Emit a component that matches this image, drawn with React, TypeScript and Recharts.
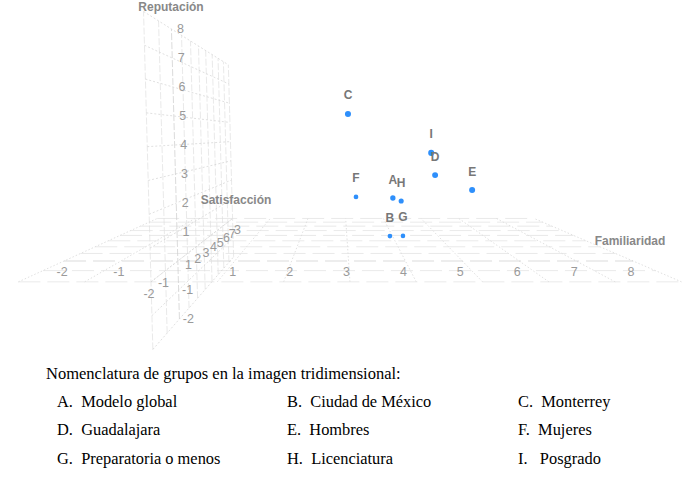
import { ScatterChart, Scatter, XAxis, YAxis, ReferenceLine, LabelList } from "recharts"

// Group positions (familiaridad, satisfaccion, reputacion)
const groupNames = ["A", "B", "C", "D", "E", "F", "G", "H", "I"]
const familiaridad = [4.05, 4.03, 3.09, 4.9, 5.66, 3.25, 4.36, 4.26, 4.81]
const satisfaccion = [4.2, 5.5, 3.0, 3.2, 3.1, 5.5, 5.8, 4.6, 3.0]
const reputacion = [1.59, -0.36, 5.21, 2.68, 2.07, 1.46, -0.42, 1.4, 3.61]

const famTicks = [-2, -1, 1, 2, 3, 4, 5, 6, 7, 8]
const satTicks = [-2, -1, 1, 2, 3, 4, 5, 6, 7, 8]
// the last satisfaccion tick reads as a 3 in the picture
const satTickText = ["-2", "-1", "1", "2", "3", "4", "5", "6", "7", "3"]
const repTicks = [-2, -1, 1, 2, 3, 4, 5, 6, 7, 8]
const famGrid = [-2, -1, 0, 1, 2, 3, 4, 5, 6, 7, 8]
const satGrid = [-2, -1, 0, 1, 2, 3, 4, 5, 6, 7, 8]
const repGrid = [-2, -1, 0, 1, 2, 3, 4, 5, 6, 7, 8]

const legendTitle = "Nomenclatura de grupos en la imagen tridimensional:"
const legendRows = [
  ["A.  Modelo global", "B.  Ciudad de México", "C.  Monterrey"],
  ["D.  Guadalajara", "E.  Hombres", "F.  Mujeres"],
  ["G.  Preparatoria o menos", "H.  Licenciatura", "I.   Posgrado"],
]

const WIDTH = 694
const HEIGHT = 350

// Perspective camera fitted by eye to the reference
const depth = (s: number) => 1 + (s < 0 ? 0.071 : 0.0637) * s
const project = (f: number, s: number, r: number) => {
  const w = depth(s)
  return {
    x: 340 + (56.9 * (f - 2.85) - 0.8 * r) / w,
    y: 135 + (126 - 29 * r) / w,
  }
}

const points = groupNames.map((name, i) => ({
  name,
  size: 4.3 / Math.pow(depth(satisfaccion[i]), 2),
  ...project(familiaridad[i], satisfaccion[i], reputacion[i]),
}))

type Seg = { a: { x: number; y: number }; b: { x: number; y: number }; dash: string; stroke: string }

const gridColor = "#e0e0e0"
const segments: Seg[] = [
  // floor
  ...famGrid.map((f) => ({ a: project(f, -2, 0), b: project(f, 8, 0), dash: "1.5 2", stroke: "#d2d2d2" })),
  ...satGrid.map((s) => ({
    a: project(-2, s, 0),
    b: project(8, s, 0),
    dash: "22 7",
    stroke: s === 0 ? "#cccccc" : gridColor,
  })),
  // wall
  ...satGrid.map((s) => ({ a: project(0, s, -2), b: project(0, s, 8), dash: "7 2", stroke: s === 0 ? "#cccccc" : gridColor })),
  ...repGrid.map((r) => ({ a: project(0, -2, r), b: project(0, 8, r), dash: "2 2", stroke: "#d2d2d2" })),
]

const tickLabels = [
  ...famTicks.map((f) => {
    const p = project(f, 0, 0)
    return { text: String(f), x: p.x - 2, y: p.y + 11 }
  }),
  ...satTicks.map((s, i) => {
    const p = project(0, s, 0)
    return { text: satTickText[i], x: p.x + (s < 0 ? -2 : 1 + (s - 1) * 0.55), y: p.y + 12 }
  }),
  ...repTicks.map((r) => {
    const p = project(0, 0, r)
    return { text: String(r), x: p.x + 9, y: p.y }
  }),
]

const axisTitles = [
  { text: "Reputación", x: 171, y: 7 },
  { text: "Satisfacción", x: 236, y: 200 },
  { text: "Familiaridad", x: 630, y: 241 },
]

const TickText = ({ cx, cy, payload }: any) => (
  <text x={cx} y={cy} textAnchor="middle" dominantBaseline="central" fontSize={12.5} fill="#9a9a9a">
    {payload.text}
  </text>
)

const TitleText = ({ cx, cy, payload }: any) => (
  <text x={cx} y={cy} textAnchor="middle" dominantBaseline="central" fontSize={12} fontWeight="bold" fill="#888888">
    {payload.text}
  </text>
)

const Dot = ({ cx, cy, payload }: any) => <circle cx={cx} cy={cy} r={payload.size} fill="#2e8ffb" />

export default function App() {
  return (
    <div style={{ position: "absolute", left: 0, top: 0, width: WIDTH, height: 479, background: "#fff" }}>
      <ScatterChart width={WIDTH} height={HEIGHT} margin={{ top: 0, right: 0, bottom: 0, left: 0 }} style={{ fontFamily: "Liberation Sans" }}>
        <XAxis type="number" dataKey="x" domain={[0, WIDTH]} hide />
        <YAxis type="number" dataKey="y" domain={[0, HEIGHT]} reversed hide />
        {segments.map((seg, i) => (
          <ReferenceLine
            key={i}
            segment={[seg.a, seg.b]}
            stroke={seg.stroke}
            strokeWidth={0.7}
            strokeDasharray={seg.dash}
            ifOverflow="visible"
          />
        ))}
        <Scatter data={tickLabels} shape={TickText} isAnimationActive={false} />
        <Scatter data={axisTitles} shape={TitleText} isAnimationActive={false} />
        <Scatter data={points} shape={Dot} isAnimationActive={false}>
          <LabelList dataKey="name" position="top" offset={10} fontSize={12} fontWeight="bold" fill="#777777" />
        </Scatter>
      </ScatterChart>
      <div style={{ position: "absolute", left: 46, top: 364, fontFamily: "Liberation Serif", fontSize: 16.5, color: "#000", whiteSpace: "nowrap" }}>
        {legendTitle}
      </div>
      {legendRows.map((row, i) => (
        <div key={i}>
          {row.map((item, j) => (
            <div
              key={j}
              style={{
                position: "absolute",
                left: [57, 287, 518][j],
                top: [392, 420, 449][i],
                fontFamily: "Liberation Serif",
                fontSize: 16.4,
                color: "#000",
                whiteSpace: "pre",
              }}
            >
              {item}
            </div>
          ))}
        </div>
      ))}
    </div>
  )
}
